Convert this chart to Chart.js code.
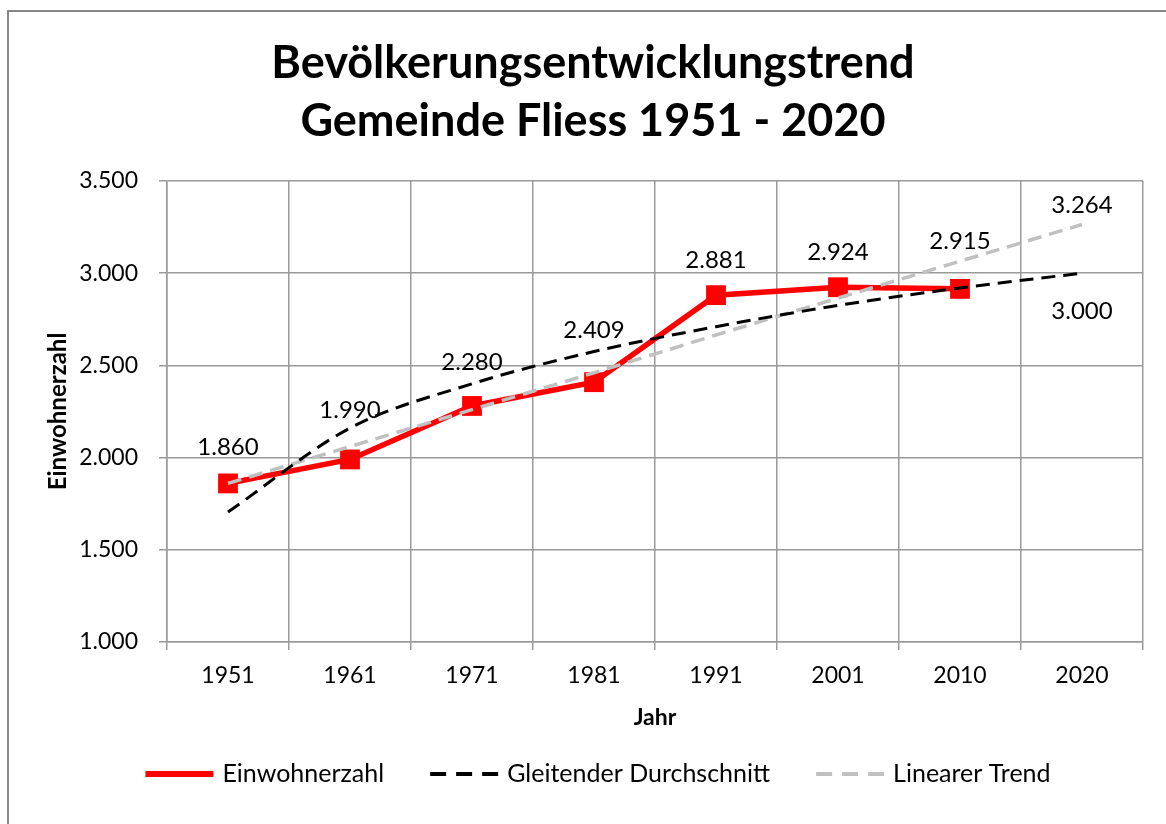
<!DOCTYPE html>
<html lang="de">
<head>
<meta charset="utf-8">
<title>Bevölkerungsentwicklungstrend Gemeinde Fliess 1951 - 2020</title>
<script src="https://cdn.jsdelivr.net/npm/chart.js@4.4.1/dist/chart.umd.min.js"></script>
<style>
  html, body { margin: 0; padding: 0; background: #fff; overflow: hidden; }
  .frame { position: absolute; left: 7px; top: 10px; width: 1200px; height: 900px;
           border-left: 2px solid #888; border-top: 2px solid #888; }
  .wrap { position: absolute; left: 0; top: 0; width: 1166px; height: 824px; }
</style>
</head>
<body>
<div class="frame"></div>
<div class="wrap"><canvas id="chart" width="1166" height="824"></canvas></div>
<script>
// Daten
const jahre = ['1951', '1961', '1971', '1981', '1991', '2001', '2010', '2020'];
const einwohner = [1860, 1990, 2280, 2409, 2881, 2924, 2915, null];
const gleitenderDurchschnitt = [1705, 2160, 2400, 2575, 2710, 2825, 2920, 3000];
const linearerTrend = [1860, 2060, 2260, 2460, 2665, 2865, 3065, 3264];
const yTicks = [1000, 1500, 2000, 2500, 3000, 3500];

const FONT = 'Lato, "Open Sans", sans-serif';
const GRID = '#9a9a9a';

const fmt = (v) => String(Math.round(v)).replace(/\B(?=(\d{3})+(?!\d))/g, '.');

Chart.defaults.font.family = FONT;
Chart.defaults.color = '#000';

// Werte-Beschriftungen an den Punkten
const valueLabels = {
  id: 'valueLabels',
  afterDatasetsDraw(chart) {
    const ctx = chart.ctx;
    ctx.save();
    ctx.font = `24px ${FONT}`;
    ctx.fillStyle = '#000';
    ctx.textAlign = 'center';
    ctx.textBaseline = 'middle';
    chart.data.datasets.forEach((ds, i) => {
      if (!ds.labelOffsets) return;
      const meta = chart.getDatasetMeta(i);
      meta.data.forEach((pt, j) => {
        const dy = ds.labelOffsets[j];
        const v = ds.data[j];
        if (dy == null || v == null) return;
        ctx.fillText(fmt(v), pt.x, pt.y + dy);
      });
    });
    ctx.restore();
  }
};

// Legende unten, wie im Original mit Linienmuster
const lineLegend = {
  id: 'lineLegend',
  afterDraw(chart, args, opts) {
    const ctx = chart.ctx;
    const sample = 68, gap = 9, spacing = 46;
    ctx.save();
    ctx.font = `25px ${FONT}`;
    const items = chart.data.datasets.map(ds => ({ ds, w: ctx.measureText(ds.label).width }));
    const total = items.reduce((s, it) => s + sample + gap + it.w, 0) + spacing * (items.length - 1);
    let x = opts.centerX - total / 2;
    const y = opts.y;
    items.forEach(({ ds, w }) => {
      ctx.beginPath();
      ctx.strokeStyle = ds.borderColor;
      ctx.lineWidth = ds.legendWidth || ds.borderWidth;
      ctx.setLineDash(ds.legendDash || []);
      ctx.moveTo(x, y);
      ctx.lineTo(x + sample, y);
      ctx.stroke();
      ctx.setLineDash([]);
      ctx.fillStyle = '#000';
      ctx.textAlign = 'left';
      ctx.textBaseline = 'middle';
      ctx.fillText(ds.label, x + sample + gap, y);
      x += sample + gap + w + spacing;
    });
    ctx.restore();
  }
};

new Chart(document.getElementById('chart'), {
  type: 'line',
  data: {
    labels: jahre,
    datasets: [
      {
        label: 'Einwohnerzahl',
        data: einwohner,
        borderColor: '#ff0000',
        backgroundColor: '#ff0000',
        borderWidth: 5.5,
        legendWidth: 6,
        pointStyle: 'rect',
        pointRadius: 14,
        pointBorderWidth: 0,
        tension: 0,
        order: 3,
        labelOffsets: [-36, -49, -44, -52, -35, -35, -48, null]
      },
      {
        label: 'Gleitender Durchschnitt',
        data: gleitenderDurchschnitt,
        borderColor: '#000000',
        borderWidth: 3,
        borderDash: [14, 8],
        legendWidth: 4,
        legendDash: [16, 10],
        pointRadius: 0,
        cubicInterpolationMode: 'monotone',
        order: 1,
        labelOffsets: [null, null, null, null, null, null, null, 38]
      },
      {
        label: 'Linearer Trend',
        data: linearerTrend,
        borderColor: '#c0c0c0',
        borderWidth: 3.5,
        borderDash: [14, 8],
        legendWidth: 4,
        legendDash: [16, 10],
        pointRadius: 0,
        tension: 0,
        order: 2,
        labelOffsets: [null, null, null, null, null, null, null, -19]
      }
    ]
  },
  options: {
    responsive: false,
    animation: false,
    layout: { padding: { left: 43, right: 23, top: 0, bottom: 70 } },
    plugins: {
      legend: { display: false },
      tooltip: { enabled: false },
      title: {
        display: true,
        text: ['Bevölkerungsentwicklungstrend', 'Gemeinde Fliess 1951 - 2020'],
        font: { size: 45, weight: 'bold', lineHeight: '58px' },
        color: '#000',
        padding: { top: 34, bottom: 31 }
      },
      lineLegend: { centerX: 598, y: 774 }
    },
    scales: {
      x: {
        offset: true,
        grid: { offset: true, color: GRID, lineWidth: 1.5, tickLength: 8 },
        border: { color: GRID, width: 1.5 },
        ticks: { padding: 12, font: { size: 23 }, color: '#000', maxRotation: 0 },
        title: {
          display: true, text: 'Jahr', color: '#000',
          font: { size: 23, weight: 'bold' },
          padding: { top: 0, bottom: 23 }
        },
        afterFit: (s) => { s.height = 112; }
      },
      y: {
        min: yTicks[0],
        max: yTicks[yTicks.length - 1],
        afterBuildTicks: (s) => { s.ticks = yTicks.map(v => ({ value: v })); },
        grid: { color: GRID, lineWidth: 1.5, tickLength: 8 },
        border: { color: GRID, width: 1.5 },
        ticks: { padding: 21, font: { size: 23 }, color: '#000', callback: (v) => fmt(v) },
        title: {
          display: true, text: 'Einwohnerzahl', color: '#000',
          font: { size: 24, weight: 'bold' },
          padding: { top: 1, bottom: 0 }
        },
        afterFit: (s) => { s.width = 124; }
      }
    }
  },
  plugins: [valueLabels, lineLegend]
});
</script>
</body>
</html>
